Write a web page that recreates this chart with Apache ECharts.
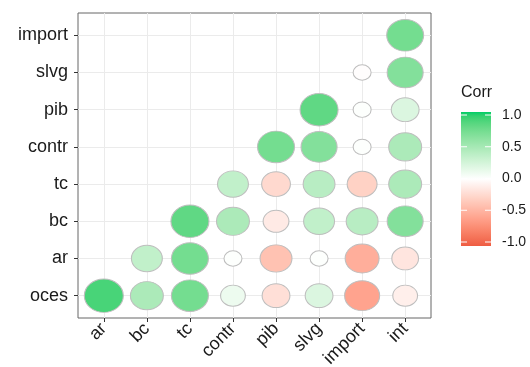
<!DOCTYPE html>
<html>
<head>
<meta charset="utf-8">
<script src="https://cdn.jsdelivr.net/npm/echarts@6/dist/echarts.min.js"></script>
<style>
html,body{margin:0;padding:0;background:#fff;}
#chart{width:530px;height:367px;}
</style>
</head>
<body>
<div id="chart"></div>
<script>
// ---- data ----
const xCats = ['ar', 'bc', 'tc', 'contr', 'pib', 'slvg', 'import', 'int'];
const yCats = ['oces', 'ar', 'bc', 'tc', 'contr', 'pib', 'slvg', 'import'];
// one row per y category, aligned with xCats (null = not drawn)
const corrOces   = [0.88, 0.45, 0.72, 0.10, -0.20, 0.20, -0.58, -0.10];
const corrAr     = [null, 0.34, 0.72, 0.01, -0.39, 0.01, -0.51, -0.16];
const corrBc     = [null, null, 0.80, 0.45, -0.13, 0.34, 0.39, 0.65];
const corrTc     = [null, null, null, 0.34, -0.24, 0.39, -0.29, 0.45];
const corrContr  = [null, null, null, null, 0.72, 0.65, 0.01, 0.45];
const corrPib    = [null, null, null, null, null, 0.80, 0.01, 0.20];
const corrSlvg   = [null, null, null, null, null, null, -0.01, 0.65];
const corrImport = [null, null, null, null, null, null, null, 0.72];
const legendBreaks = [1.0, 0.5, 0.0, -0.5, -1.0];
const legendTitle = 'Corr';

// ---- colour scale (Lab interpolation like ggplot's gradient2) ----
const lowCol = '#EE5C42', midCol = '#FFFFFF', highCol = '#00CD66';
function hex2rgb(h){return [parseInt(h.substr(1,2),16),parseInt(h.substr(3,2),16),parseInt(h.substr(5,2),16)];}
function s2l(c){c/=255;return c<=0.04045?c/12.92:Math.pow((c+0.055)/1.055,2.4);}
function l2s(c){c=c<=0.0031308?12.92*c:1.055*Math.pow(c,1/2.4)-0.055;return Math.round(Math.max(0,Math.min(1,c))*255);}
function toLab(hex){
  const [r,g,b]=hex2rgb(hex).map(s2l);
  const X=(0.4124*r+0.3576*g+0.1805*b)/0.95047, Y=0.2126*r+0.7152*g+0.0722*b, Z=(0.0193*r+0.1192*g+0.9505*b)/1.08883;
  const f=t=>t>0.008856?Math.cbrt(t):7.787*t+16/116;
  const fx=f(X),fy=f(Y),fz=f(Z);
  return [116*fy-16,500*(fx-fy),200*(fy-fz)];
}
function fromLab(L,a,b){
  const fy=(L+16)/116, fx=fy+a/500, fz=fy-b/200;
  const fi=t=>{const t3=t*t*t;return t3>0.008856?t3:(t-16/116)/7.787;};
  const X=fi(fx)*0.95047, Y=fi(fy), Z=fi(fz)*1.08883;
  const r=3.2406*X-1.5372*Y-0.4986*Z, g=-0.9689*X+1.8758*Y+0.0415*Z, bb=0.0557*X-0.2040*Y+1.0570*Z;
  return 'rgb('+l2s(r)+','+l2s(g)+','+l2s(bb)+')';
}
function labMix(c1,c2,t){const A=toLab(c1),B=toLab(c2);return fromLab(A[0]+(B[0]-A[0])*t,A[1]+(B[1]-A[1])*t,A[2]+(B[2]-A[2])*t);}
const nStops = 20;
const colorStops = [];
for(let i=0;i<=nStops;i++){colorStops.push(labMix(lowCol,midCol,i/nStops));}
for(let i=1;i<=nStops;i++){colorStops.push(labMix(midCol,highCol,i/nStops));}

// ---- build series data ----
const rows = [corrOces, corrAr, corrBc, corrTc, corrContr, corrPib, corrSlvg, corrImport];
const points = [];
rows.forEach((row, yi) => row.forEach((v, xi) => { if (v !== null) points.push([xi, yi, v]); }));
const absVals = points.map(p => Math.abs(p[2]));
const aMin = Math.min(...absVals), aMax = Math.max(...absVals);

const FONT = "'Liberation Sans', Arial, Helvetica, sans-serif";
const TXT = '#1a1a1a';
const chart = echarts.init(document.getElementById('chart'), null, {renderer: 'canvas'});

// legend geometry
const barL = 461, barT = 112, barW = 30, barH = 134;
const labTop = 115, labBot = 242;
const graphics = [];
graphics.push({type:'text', left: barL, top: 85, style:{text: legendTitle, font: '16px ' + FONT, fill: TXT}});
graphics.push({type:'rect', shape:{x:barL, y:barT, width:barW, height:barH},
  style:{fill: new echarts.graphic.LinearGradient(0,0,0,1, colorStops.slice().reverse().map((c,i,arr)=>({offset:i/(arr.length-1), color:c})))}});
legendBreaks.forEach(v => {
  const y = labTop + (1 - v) / 2 * (labBot - labTop);
  graphics.push({type:'line', shape:{x1:barL, y1:y, x2:barL+6, y2:y}, style:{stroke:'#fff', lineWidth:1}});
  graphics.push({type:'line', shape:{x1:barL+barW-6, y1:y, x2:barL+barW, y2:y}, style:{stroke:'#fff', lineWidth:1}});
  graphics.push({type:'text', x: barL + barW + 11, y: y,
    style:{text: v.toFixed(1), font: '14px ' + FONT, fill: TXT, textVerticalAlign:'middle', verticalAlign:'middle'}});
});

const idx = [0,1,2,3,4,5,6,7];
chart.setOption({
  animation: false,
  backgroundColor: '#fff',
  grid: {left: 78, right: 99, top: 13, bottom: 49, show: true, borderColor: '#666', borderWidth: 1,
         backgroundColor: 'transparent', containLabel: false, outerBoundsMode: 'none'},
  xAxis: {
    type: 'value', min: -0.6, max: xCats.length - 1 + 0.6,
    axisLine: {show: false, onZero: false},
    axisTick: {show: true, customValues: idx, length: 4, lineStyle: {color: '#333'}},
    axisLabel: {customValues: idx, formatter: v => xCats[Math.round(v)], rotate: 45, fontSize: 18, color: TXT, fontFamily: FONT, margin: 8},
    splitLine: {show: true, lineStyle: {color: '#EBEBEB', width: 1}}
  },
  yAxis: {
    type: 'value', min: -0.6, max: yCats.length - 1 + 0.6,
    axisLine: {show: false, onZero: false},
    axisTick: {show: true, customValues: idx, length: 4, lineStyle: {color: '#333'}},
    axisLabel: {customValues: idx, formatter: v => yCats[Math.round(v)], fontSize: 18, color: TXT, fontFamily: FONT, margin: 10},
    splitLine: {show: true, lineStyle: {color: '#EBEBEB', width: 1}}
  },
  visualMap: {type: 'continuous', show: false, min: -1, max: 1, dimension: 2, seriesIndex: 0, inRange: {color: colorStops}},
  series: [{
    type: 'scatter',
    data: points,
    symbol: 'circle',
    symbolSize: function (val) {
      const t = (Math.abs(val[2]) - aMin) / (aMax - aMin);
      const w = 18 + 21 * Math.sqrt(t);
      return [w, w / 1.17];
    },
    itemStyle: {borderColor: '#BEBEBE', borderWidth: 1, opacity: 1},
    z: 3
  }],
  graphic: graphics
});
</script>
</body>
</html>
